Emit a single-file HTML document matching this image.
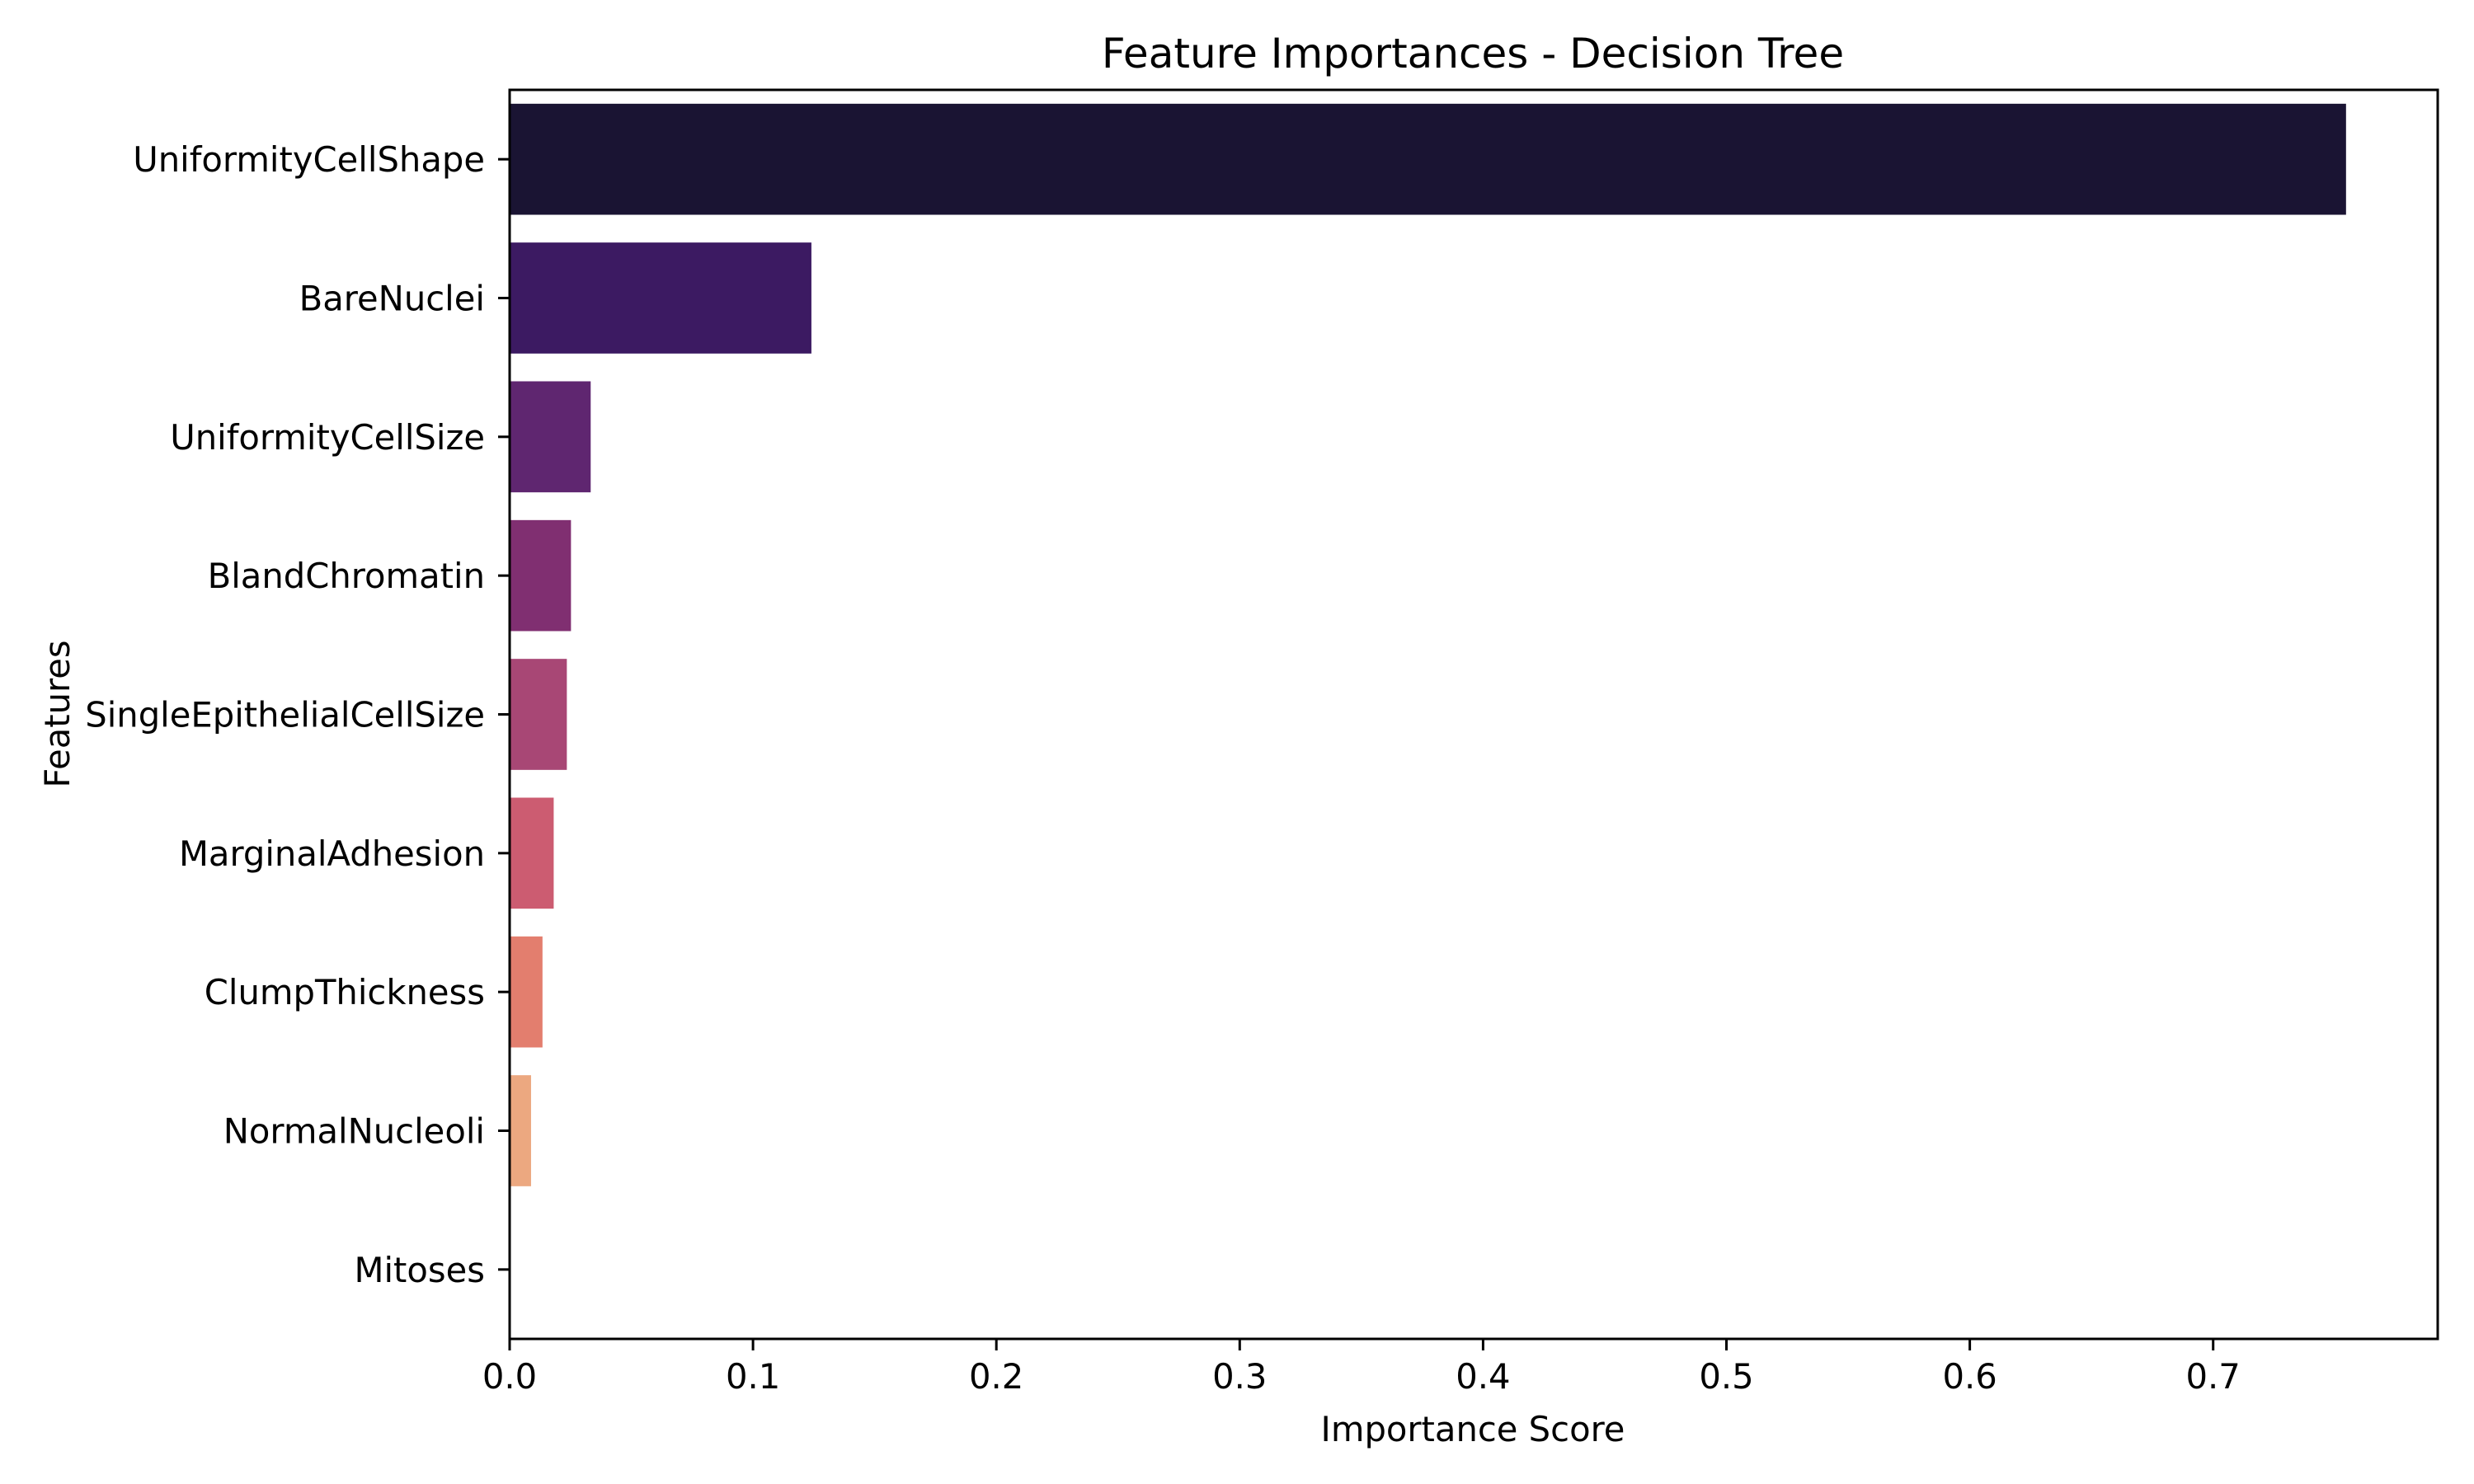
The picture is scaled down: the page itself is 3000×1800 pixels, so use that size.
<!DOCTYPE html>
<html><head><meta charset="utf-8"><style>
body{margin:0;background:#fff}
svg{display:block}
text{font-family:"DejaVu Sans","Liberation Sans",sans-serif;fill:#000}
</style></head><body>
<svg id="chart" width="3000" height="1800" viewBox="0 0 3000 1800">
<rect width="3000" height="1800" fill="#fff"/>
<text x="1786" y="82" font-size="50" text-anchor="middle">Feature Importances - Decision Tree</text>
<g id="bars"></g>
<g id="yticks"></g>
<g id="xticks"></g>
<rect x="618" y="109" width="2338" height="1515" fill="none" stroke="#000" stroke-width="3"/>
<text x="1786" y="1748" font-size="41.7" text-anchor="middle">Importance Score</text>
<text x="0" y="0" font-size="41.7" text-anchor="middle" transform="translate(84,866) rotate(-90)">Features</text>
</svg>
<script>
const features=["UniformityCellShape","BareNuclei","UniformityCellSize","BlandChromatin","SingleEpithelialCellSize","MarginalAdhesion","ClumpThickness","NormalNucleoli","Mitoses"];
const importances=[0.7546,0.124,0.0333,0.0252,0.0235,0.0181,0.0135,0.0088,0];
const barColors=["#1a1433","#3c1a62","#5f2670","#802f71","#a84775","#cc5c71","#e37e6e","#eca880","#f8d9a0"];
const xTicks=[0,0.1,0.2,0.3,0.4,0.5,0.6,0.7];
const NS="http://www.w3.org/2000/svg";
const X0=618,PX=2951,TOP=109,BOT=1624;
const band=(BOT-TOP)/features.length;
const xs=v=>X0+v*PX;
const yc=i=>TOP+band*(i+0.5);
const bars=document.getElementById('bars'),yt=document.getElementById('yticks'),xt=document.getElementById('xticks');
features.forEach((f,i)=>{
 const r=document.createElementNS(NS,'rect');
 r.setAttribute('x',xs(0));r.setAttribute('y',yc(i)-band*0.4);
 r.setAttribute('width',Math.max(0,xs(importances[i])-xs(0)));r.setAttribute('height',band*0.8);
 r.setAttribute('fill',barColors[i]);
 
 
 bars.appendChild(r);
 const l=document.createElementNS(NS,'line');
 l.setAttribute('x1',X0-14);l.setAttribute('x2',X0);l.setAttribute('y1',yc(i));l.setAttribute('y2',yc(i));
 l.setAttribute('stroke','#000');l.setAttribute('stroke-width','3');
 
 
 yt.appendChild(l);
 const t=document.createElementNS(NS,'text');
 t.setAttribute('x',X0-30);t.setAttribute('y',yc(i)+15);t.setAttribute('font-size','41.7');t.setAttribute('text-anchor','end');
 t.textContent=f;
 
 
 yt.appendChild(t);
});
xTicks.forEach(v=>{
 const l=document.createElementNS(NS,'line');
 l.setAttribute('x1',xs(v));l.setAttribute('x2',xs(v));l.setAttribute('y1',BOT);l.setAttribute('y2',BOT+14);
 l.setAttribute('stroke','#000');l.setAttribute('stroke-width','3');
 
 
 xt.appendChild(l);
 const t=document.createElementNS(NS,'text');
 t.setAttribute('x',xs(v));t.setAttribute('y',BOT+60);t.setAttribute('font-size','41.7');t.setAttribute('text-anchor','middle');
 t.textContent=v.toFixed(1);
 
 
 xt.appendChild(t);
});
</script>
</body></html>
